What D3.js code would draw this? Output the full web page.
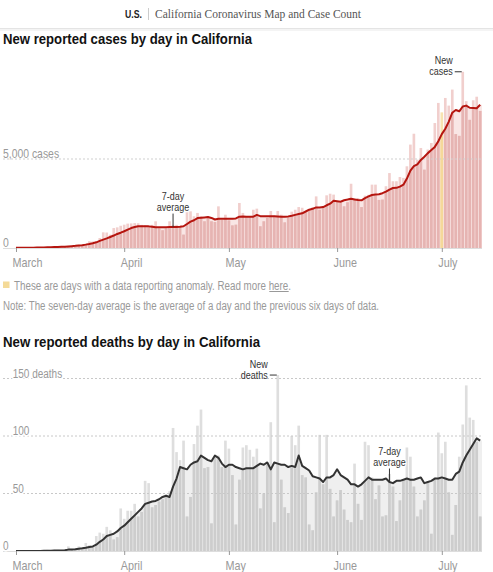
<!DOCTYPE html>
<html><head><meta charset="utf-8">
<script src="https://cdn.jsdelivr.net/npm/d3@7"></script>
<style>
body{margin:0;background:#fff;}
svg{display:block;}
text{font-family:"Liberation Sans",Arial,sans-serif;}
</style></head><body>
<svg id="c" width="493" height="572"></svg>
<script>
// ---------- data ----------
const startDate = "2020-03-01";
const monthTicks = ["2020-03-01","2020-04-01","2020-05-01","2020-06-01","2020-07-01"];
const casesAnomalyDays = ["2020-07-01"];
const deathsAnomalyDays = [];

const casesDaily = [
  5,3,8,10,25,15,20,30,40,35,
  50,60,45,90,110,120,130,150,180,200,
  250,380,370,350,560,880,870,750,1120,1160,
  1250,1310,1370,1380,1400,1390,1300,1280,1250,1300,
  1500,1100,1000,1100,1500,1300,1300,1250,750,2300,
  2060,1780,1970,1780,1500,1690,1500,1460,2340,1580,
  1870,1550,1270,1310,2530,1970,1740,1780,2150,2210,
  1220,1500,1690,2080,1820,2080,1870,1440,1690,2040,
  2150,2300,2260,2000,2150,2300,2900,2150,2340,2960,
  3050,3000,2620,2530,2340,2570,3610,2810,2810,2300,
  2940,2990,3560,3560,2700,2720,3470,4210,3750,3750,
  3990,3940,4590,5810,6420,4960,5620,4400,5530,5900,
  7020,8150,7620,8430,8000,8900,6400,6300,9900,8250,
  7200,8300,8500,7700
];
const casesAvg = [
  10,10,12,15,18,20,25,30,35,40,
  45,50,55,65,75,90,105,120,140,160,
  190,225,270,320,400,470,540,620,700,790,
  860,940,1030,1120,1180,1220,1225,1225,1215,1190,
  1160,1160,1165,1170,1175,1175,1180,1190,1220,1350,
  1480,1560,1680,1700,1720,1740,1690,1600,1640,1640,
  1640,1650,1640,1660,1760,1770,1750,1750,1760,1860,
  1790,1780,1780,1780,1780,1770,1760,1750,1770,1810,
  1860,1910,1950,2050,2150,2200,2280,2270,2300,2400,
  2490,2660,2630,2600,2680,2720,2770,2730,2700,2680,
  2800,2900,2980,3000,3020,3080,3170,3280,3370,3380,
  3450,3560,3900,4350,4600,4700,4950,5130,5330,5500,
  5680,6000,6400,6700,7100,7600,7750,7680,7950,8000,
  7880,7870,7850,8050
];
const deathsDaily = [
  0,0,0,0,0,0,0,0,0,1,
  0,1,1,0,1,4,1,2,4,3,
  7,5,4,13,16,15,21,18,10,12,
  37,28,35,35,41,30,34,61,59,38,
  40,43,45,49,52,107,86,79,96,30,
  47,93,109,123,72,73,24,81,83,73,
  96,89,66,23,62,90,92,88,82,89,
  37,50,75,112,25,153,62,38,33,100,
  92,109,66,64,23,18,51,101,58,101,
  54,30,44,53,36,27,25,76,41,27,
  95,92,64,45,57,30,31,67,56,26,
  44,62,90,82,56,30,36,44,59,15,
  64,103,85,95,51,14,40,82,110,144,
  116,114,95,30
];
const deathsAvg = [
  0,0,0,0,0,0,0,0,0.2,0.3,
  0.3,0.4,0.5,0.5,0.6,1.2,1.3,1.5,2,2.3,
  2.8,3.5,4,5.5,8,10,13,14,15,17,
  20,22,25,28,31,34,37,41,42,43,
  43.5,45,47,48,47,56,63,73,72,71,
  75,77,78,83,81,79,78,83,81,76,
  73,75,75,73,72,71,72,72,72,74,
  76,75,77,71,77,76,75,75,73,74,
  73,83,74,72,70,65,64,63,60,64,
  64,66,71,66,64,62,58,58,56,58,
  61,64,62,62,62,62,63,60,59,61,
  61,62,63,62,62,63,64,59,60,61,
  63,63,64,63,62,62,67,69,77,83,
  88,93,98,96
];
const casesGrid = [0, 5000];
const casesGridLabels = ["0", "5,000 cases"];
const deathsGrid = [0, 50, 100, 150];
const deathsGridLabels = ["0", "50", "100", "150 deaths"];

// ---------- setup ----------
const svg = d3.select("#c");
const defs = svg.append("defs");
const parse = d3.utcParse("%Y-%m-%d");
const start = parse(startDate);
const dates = casesDaily.map((_, i) => d3.utcDay.offset(start, i));
const fmtDay = d3.utcFormat("%Y-%m-%d");
const x = d3.scaleUtc().domain([dates[0], dates[dates.length - 1]]).range([16, 480.2]);
const step = x(dates[1]) - x(dates[0]);
const bw = step - 0.85;
const NARROW = 0.8;

function fit(sel, w) { sel.attr("textLength", w).attr("lengthAdjust", "spacingAndGlyphs"); return sel; }
function condense(sel, f) {
  sel.each(function () {
    const w = this.getComputedTextLength();
    if (w > 0) d3.select(this).attr("textLength", (w * (f || NARROW)).toFixed(2)).attr("lengthAdjust", "spacingAndGlyphs");
  });
  return sel;
}

// header
svg.append("rect").attr("x", 0).attr("y", 28).attr("width", 493).attr("height", 1).attr("fill", "#e4e4e4");
svg.append("rect").attr("x", 0).attr("y", 29).attr("width", 493).attr("height", 2).attr("fill", "#f4f4f4");
fit(svg.append("text").attr("x", 125).attr("y", 18).attr("font-size", 11).attr("font-weight", "bold")
  .attr("fill", "#222").text("U.S."), 17);
svg.append("line").attr("x1", 148.5).attr("x2", 148.5).attr("y1", 8).attr("y2", 20).attr("stroke", "#ccc");
fit(svg.append("text").attr("x", 155).attr("y", 18).attr("font-size", 12.5).attr("fill", "#555")
  .style("font-family", "'Liberation Serif','DejaVu Serif',serif").text("California Coronavirus Map and Case Count"), 206);

function drawChart(o) {
  const { id, daily, avg, anomalies, y, c, grid, gridLabels, labelX, labelSize, halo, title, titleY, titleW, monthY, anno, avgAnno } = o;
  const anomalySet = new Set(anomalies);
  const g = svg.append("g");
  const n = daily.length;
  const pts = daily.map((v, i) => ({ d: dates[i], v, a: avg[i], anom: anomalySet.has(fmtDay(dates[i])) }));

  fit(g.append("text").attr("x", 3).attr("y", titleY).attr("font-size", 15.5).attr("font-weight", "bold")
    .attr("fill", "#121212").text(title), titleW);

  const areaPts = [{ x: x(dates[0]) - step / 2, a: avg[0] }]
    .concat(pts.map(p => ({ x: x(p.d), a: p.a })))
    .concat([{ x: x(dates[n - 1]) + step / 2, a: avg[n - 1] }]);
  const area = d3.area().x(p => p.x).y0(y(0)).y1(p => y(p.a));
  defs.append("clipPath").attr("id", id + "clip").append("path").attr("d", area(areaPts));

  g.append("path").attr("d", area(areaPts)).attr("fill", c.area);

  g.append("g").selectAll("rect").data(pts).join("rect")
    .attr("x", p => x(p.d) - bw / 2).attr("y", p => y(p.v))
    .attr("width", bw).attr("height", p => y(0) - y(p.v))
    .attr("fill", p => p.anom ? c.anomLight : c.barLight);
  g.append("g").attr("clip-path", `url(#${id}clip)`).selectAll("rect").data(pts).join("rect")
    .attr("x", p => x(p.d) - bw / 2).attr("y", p => y(p.v))
    .attr("width", bw).attr("height", p => y(0) - y(p.v))
    .attr("fill", p => p.anom ? c.anomDark : c.barDark);

  grid.forEach(v => {
    if (v === 0) return;
    g.append("line").attr("x1", 3).attr("x2", 482).attr("y1", y(v)).attr("y2", y(v))
      .attr("stroke", c.grid).attr("stroke-dasharray", "2,2");
  });

  g.append("path").datum(pts)
    .attr("d", d3.line().x(p => x(p.d)).y(p => y(p.a)))
    .attr("fill", "none").attr("stroke", c.line).attr("stroke-width", 2).attr("stroke-linejoin", "round");

  const ax = g.append("g").attr("transform", `translate(0,${y(0)})`)
    .call(d3.axisBottom(x).tickValues(monthTicks.map(parse)).tickSize(4).tickFormat(d3.utcFormat("%B")));
  ax.attr("font-family", null);
  ax.select(".domain").attr("d", `M3,0.5H482`).attr("stroke", "#ddd");
  ax.selectAll(".tick line").attr("stroke", "#999");
  condense(ax.selectAll(".tick text").attr("fill", "#999").attr("font-size", 13.5)
    .attr("text-anchor", "start").attr("x", -4).attr("y", monthY - y(0)).attr("dy", null));

  grid.forEach((v, i) => {
    const t = g.append("text").attr("x", v === 0 ? 3 : labelX).attr("y", y(v) - 1)
      .attr("font-size", labelSize).attr("fill", "#999").text(gridLabels[i]);
    if (halo) t.attr("stroke", "#fff").attr("stroke-width", 3).attr("paint-order", "stroke");
    condense(t);
  });

  const mi = d3.maxIndex(daily);
  const bx = x(dates[mi]), by = y(daily[mi]);
  condense(g.append("text").attr("x", bx - 10).attr("y", by - 7.5).attr("text-anchor", "end")
    .attr("font-size", 11.5).attr("fill", "#333").text("New"), 0.78);
  condense(g.append("text").attr("x", bx - 10).attr("y", by + 3.5).attr("text-anchor", "end")
    .attr("font-size", 11.5).attr("fill", "#333").text(anno), 0.78);
  g.append("line").attr("x1", bx - 8).attr("x2", bx - 1).attr("y1", by).attr("y2", by)
    .attr("stroke", "#333").attr("stroke-width", 1);

  const axp = x(dates[avgAnno]), ayp = y(avg[avgAnno]);
  condense(g.append("text").attr("x", axp).attr("y", ayp - 16.5).attr("text-anchor", "middle")
    .attr("font-size", 11.5).attr("fill", "#333").attr("stroke", "#fff").attr("stroke-width", 2.5)
    .attr("paint-order", "stroke").text("average"), 0.78);
  condense(g.append("text").attr("x", axp).attr("y", ayp - 27.5).attr("text-anchor", "middle")
    .attr("font-size", 11.5).attr("fill", "#333").attr("stroke", "#fff").attr("stroke-width", 2.5)
    .attr("paint-order", "stroke").text("7-day"), 0.78);
  g.append("line").attr("x1", axp).attr("x2", axp).attr("y1", ayp - 13.5).attr("y2", ayp)
    .attr("stroke", "#333").attr("stroke-width", 1);
}

const yCases = d3.scaleLinear().domain([0, 5000]).range([248, 159]);
const yDeaths = d3.scaleLinear().domain([0, 150]).range([551, 378.5]);

drawChart({
  id: "cases", daily: casesDaily, avg: casesAvg, anomalies: casesAnomalyDays, y: yCases,
  c: { area: "#f9e6e5", barLight: "#f1cfcd", barDark: "#e6b4b2", anomLight: "#f8e3b0", anomDark: "#f5d899", line: "#b5150f", grid: "#cfcfcf" },
  grid: casesGrid, gridLabels: casesGridLabels, labelX: 3, labelSize: 13, halo: false,
  title: "New reported cases by day in California", titleY: 43.5, titleW: 249, monthY: 266.5,
  anno: "cases", avgAnno: 45
});
drawChart({
  id: "deaths", daily: deathsDaily, avg: deathsAvg, anomalies: deathsAnomalyDays, y: yDeaths,
  c: { area: "#efefef", barLight: "#dedede", barDark: "#cdcdcd", anomLight: "#f8e3b0", anomDark: "#f5d899", line: "#333", grid: "#c8c8c8" },
  grid: deathsGrid, gridLabels: deathsGridLabels, labelX: 12.7, labelSize: 12.5, halo: true,
  title: "New reported deaths by day in California", titleY: 346.5, titleW: 257, monthY: 569.5,
  anno: "deaths", avgAnno: 107
});

// legend & note
svg.append("rect").attr("x", 3).attr("y", 281.5).attr("width", 6.5).attr("height", 6.5).attr("fill", "#f4da98");
fit(svg.append("text").attr("x", 14).attr("y", 289.5).attr("font-size", 12.5).attr("fill", "#999")
  .text("These are days with a data reporting anomaly. Read more here."), 277);
svg.append("line").attr("x1", 269.3).attr("x2", 288.7).attr("y1", 291.5).attr("y2", 291.5)
  .attr("stroke", "#999").attr("stroke-width", 1);
fit(svg.append("text").attr("x", 3).attr("y", 309.5).attr("font-size", 12.5).attr("fill", "#999")
  .text("Note: The seven-day average is the average of a day and the previous six days of data."), 376);
</script>
</body></html>
